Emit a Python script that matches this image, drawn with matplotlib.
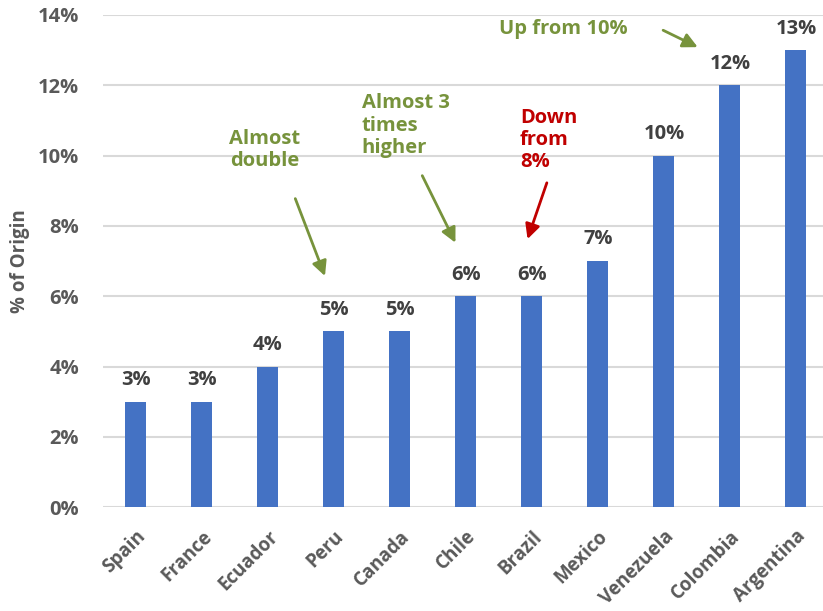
import matplotlib.pyplot as plt
import matplotlib.ticker as ticker

# ── Data ──────────────────────────────────────────────────────────────────────
countries = ["Spain", "France", "Ecuador", "Peru", "Canada", "Chile",
             "Brazil", "Mexico", "Venezuela", "Colombia", "Argentina"]
share = [0.03, 0.03, 0.04, 0.05, 0.05, 0.06, 0.06, 0.07, 0.10, 0.12, 0.13]
y_ticks = [0.00, 0.02, 0.04, 0.06, 0.08, 0.10, 0.12, 0.14]

BLUE = "#4472C4"
GREEN = "#77933C"
RED = "#C00000"
GREY = "#595959"
DARK = "#404040"

plt.rcParams["font.family"] = ["Open Sans", "DejaVu Sans"]
plt.rcParams["font.weight"] = "bold"

fig = plt.figure(figsize=(8.23, 6.11), dpi=100)
ax = fig.add_axes([0.125, 0.170, 0.875, 0.8055])

x = list(range(len(countries)))
ax.bar(x, share, width=0.32, color=BLUE, zorder=2)

for xi, v in zip(x, share):
    ax.text(xi, v + 0.0033, f"{v * 100:.0f}%", ha="center", va="bottom",
            fontsize=14.5, fontweight="bold", color=DARK)

ax.set_xlim(-0.5, 10.41)
ax.set_ylim(0, 0.14)
ax.set_yticks(y_ticks)
ax.yaxis.set_major_formatter(ticker.FuncFormatter(lambda v, _: f"{v * 100:.0f}%"))
ax.grid(axis="y", color="#D9D9D9", linewidth=1.5, zorder=0)
ax.set_axisbelow(True)
for s in ax.spines.values():
    s.set_visible(False)
ax.tick_params(axis="both", length=0, colors=GREY)
ax.tick_params(axis="y", pad=17, labelsize=14.5)
ax.set_xticks(x)
ax.set_xticklabels(countries, rotation=45, ha="right", rotation_mode="anchor",
                   fontsize=13.5, fontweight="bold", color=GREY)
ax.tick_params(axis="x", pad=14)
for lbl in ax.get_yticklabels():
    lbl.set_fontweight("bold")

ax.set_ylabel("% of Origin", fontsize=13.5, fontweight="bold", color=GREY, labelpad=6)

# ── Annotations ───────────────────────────────────────────────────────────────
arrow_g = dict(arrowstyle="-|>", color=GREEN, lw=2, mutation_scale=22)
arrow_r = dict(arrowstyle="-|>", color=RED, lw=2, mutation_scale=22)

ax.text(1.95, 0.1015, "Almost\ndouble", ha="center", va="center",
        fontsize=14.5, fontweight="bold", color=GREEN, linespacing=1.15)
ax.annotate("", xy=(2.88, 0.065), xytext=(2.4, 0.0885), arrowprops=arrow_g)

ax.text(3.42, 0.1085, "Almost 3\ntimes\nhigher", ha="left", va="center",
        fontsize=14.5, fontweight="bold", color=GREEN, linespacing=1.15)
ax.annotate("", xy=(4.86, 0.0745), xytext=(4.32, 0.095), arrowprops=arrow_g)

ax.text(5.82, 0.1045, "Down\nfrom\n8%", ha="left", va="center",
        fontsize=14.5, fontweight="bold", color=RED, linespacing=1.15)
ax.annotate("", xy=(5.92, 0.0755), xytext=(6.24, 0.0930), arrowprops=arrow_r)

ax.text(6.48, 0.136, "Up from 10%", ha="center", va="center",
        fontsize=14.5, fontweight="bold", color=GREEN)
ax.annotate("", xy=(8.55, 0.1305), xytext=(7.95, 0.136), arrowprops=arrow_g)

plt.savefig("out.png", dpi=100)
